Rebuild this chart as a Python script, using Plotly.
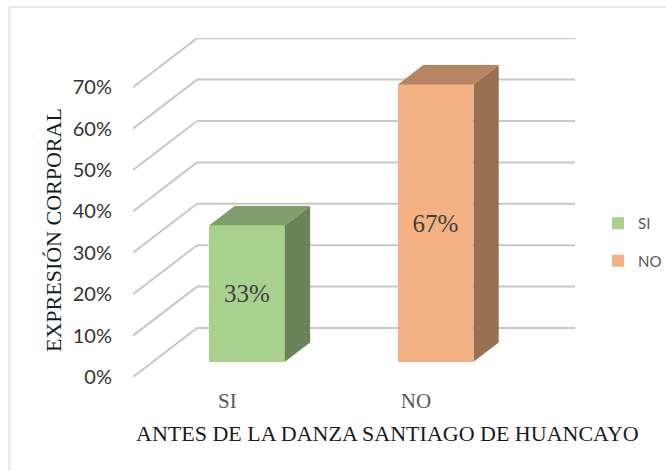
import plotly.graph_objects as go

categories = ["SI", "NO"]
values = [33, 67]
face_colors = ["#A9D18E", "#F4B183"]
top_colors = ["#7F9D6B", "#B78562"]
side_colors = ["#6A8358", "#996F52"]
y_ticks = [0, 10, 20, 30, 40, 50, 60, 70]
y_tick_labels = ["0%", "10%", "20%", "30%", "40%", "50%", "60%", "70%"]
x_title = "ANTES DE LA DANZA SANTIAGO DE HUANCAYO"
y_title = "EXPRESIÓN CORPORAL"

W, H = 666, 471
L, R, T, B = 133, 575, 38, 377
PX_PER_PCT = 4.14
CAT_PX = 188.6
DEPTH_X = 64 / CAT_PX
DEPTH_Y = 49 / PX_PER_PCT
BAR_WIDTH = 75.5 / CAT_PX
BAR_D0, BAR_D1 = 0.31, 0.704
GRID = "#C8C8C8"

x0 = -0.5
x1 = x0 + (R - L) / CAT_PX
y1 = (B - T) / PX_PER_PCT


def px(v):
    return (v - L) / (R - L)


def py(v):
    return (B - v) / (B - T)


def gp(x, y, d):
    return x + d * DEPTH_X, y + d * DEPTH_Y


fig = go.Figure()
shapes = []

for t in y_ticks:
    a = gp(-0.5, t, 0)
    b = gp(-0.5, t, 1)
    for p, q in ((a, b), (b, (x1, b[1]))):
        shapes.append(dict(type="line", xref="x", yref="y", layer="below",
                           x0=p[0], y0=p[1], x1=q[0], y1=q[1],
                           line=dict(color=GRID, width=2)))

for i, (cat, v) in enumerate(zip(categories, values)):
    xl, base = gp(i - BAR_WIDTH / 2, 0, BAR_D0)
    xr = xl + BAR_WIDTH
    top = base + v
    dx = (BAR_D1 - BAR_D0) * DEPTH_X
    dy = (BAR_D1 - BAR_D0) * DEPTH_Y
    fig.add_trace(go.Bar(x=[xl + BAR_WIDTH / 2], y=[v], base=[base], width=[BAR_WIDTH], name=cat,
                         legendgroup=cat, marker=dict(color=face_colors[i], line=dict(width=0)),
                         text=[f"{v}%"], textposition="inside", insidetextanchor="middle", textangle=0,
                         constraintext="none",
                         textfont=dict(family="Liberation Serif", size=25, color="#404040")))
    fig.add_trace(go.Scatter(x=[xr, xr + dx, xr + dx, xr, xr], y=[base, base + dy, top + dy, top, base],
                             mode="lines", fill="toself", fillcolor=side_colors[i],
                             line=dict(width=0), showlegend=False, hoverinfo="skip"))
    fig.add_trace(go.Scatter(x=[xl, xl + dx, xr + dx, xr, xl], y=[top, top + dy, top + dy, top, top],
                             mode="lines", fill="toself", fillcolor=top_colors[i],
                             line=dict(width=0), showlegend=False, hoverinfo="skip"))

# faint frame: top and left edges only
shapes.append(dict(type="line", xref="paper", yref="paper", x0=px(9.5), x1=px(666), y0=py(7), y1=py(7),
                   layer="below", line=dict(color="#E8E8E8", width=2)))
shapes.append(dict(type="line", xref="paper", yref="paper", x0=px(9.5), x1=px(9.5), y0=py(7), y1=py(471),
                   layer="below", line=dict(color="#E8E8E8", width=2.5)))

annotations = [
    dict(text=x_title, xref="paper", yref="paper", x=px(387), y=py(433), showarrow=False,
         xanchor="center", yanchor="middle",
         font=dict(family="Liberation Serif", size=22, color="#1A1A1A")),
    dict(text=y_title, xref="paper", yref="paper", x=px(53), y=py(230), showarrow=False, textangle=-90,
         xanchor="center", yanchor="middle",
         font=dict(family="Liberation Serif", size=22, color="#1A1A1A")),
]

fig.update_layout(
    width=W, height=H, autosize=False,
    margin=dict(l=L, r=W - R, t=T, b=H - B, autoexpand=False),
    paper_bgcolor="white", plot_bgcolor="white",
    barmode="overlay", bargap=0,
    font=dict(family="Lato"),
    legend=dict(x=px(598), xanchor="left", y=py(242), yanchor="middle", tracegroupgap=15,
                font=dict(family="Lato", size=15, color="#595959"), bgcolor="rgba(0,0,0,0)"),
    xaxis=dict(range=[x0, x1], tickmode="array", tickvals=[0, 1], ticktext=categories,
               showgrid=False, zeroline=False, showline=False, ticks="", ticklabelstandoff=9,
               tickfont=dict(family="Liberation Serif", size=21, color="#595959")),
    yaxis=dict(range=[0, y1], tickmode="array", tickvals=y_ticks, ticktext=y_tick_labels,
               showgrid=False, zeroline=False, showline=False, ticks="", ticklabelstandoff=20,
               tickfont=dict(family="Lato", size=20, color="#333333")),
    shapes=shapes,
    annotations=annotations,
)
fig.write_html("out.html", config=dict(displayModeBar=False),
               post_script="document.body.style.margin='0';document.body.style.overflow='hidden';")
